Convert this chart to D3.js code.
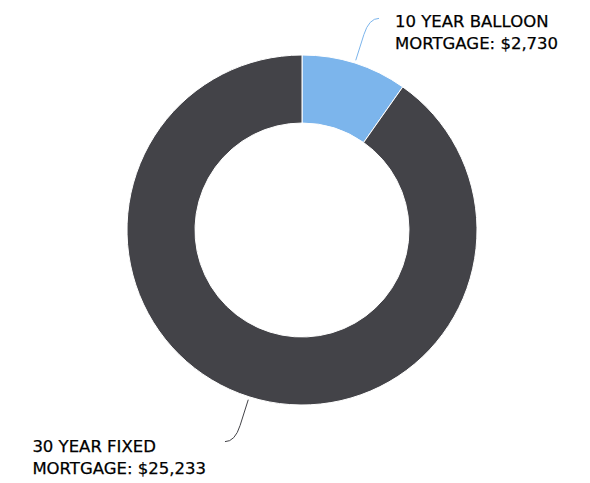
<!DOCTYPE html>
<html>
<head>
<meta charset="utf-8">
<script src="https://cdn.jsdelivr.net/npm/d3@7"></script>
<style>
  html, body { margin: 0; padding: 0; background: #ffffff; }
  svg { display: block; }
  text { font-family: "DejaVu Sans", Verdana, sans-serif; }
</style>
</head>
<body>
<svg id="chart" width="590" height="483"></svg>
<script>
const categories = ["10 YEAR BALLOON MORTGAGE", "30 YEAR FIXED MORTGAGE"];
const values = [2730, 25233];
const colors = ["#7cb5ec", "#434348"];
const labelLines = [["10 YEAR BALLOON", "MORTGAGE: $2,730"], ["30 YEAR FIXED", "MORTGAGE: $25,233"]];

const W = 590, H = 483;
const cx = 302, cy = 230;
const outerR = 175, innerR = 107;

const svg = d3.select("#chart");
const g = svg.append("g").attr("transform", `translate(${cx},${cy})`);

const pie = d3.pie().sort(null).value(d => d)(values);
const arc = d3.arc().innerRadius(innerR).outerRadius(outerR);

g.selectAll("path.slice")
  .data(pie)
  .join("path")
  .attr("class", "slice")
  .attr("d", arc)
  .attr("fill", (d, i) => colors[i])
  .attr("stroke", "#ffffff")
  .attr("stroke-width", 1)
  .attr("stroke-linejoin", "round");

// connectors + labels
pie.forEach((d, i) => {
  const a = (d.startAngle + d.endAngle) / 2;
  const sx = Math.sin(a), sy = -Math.cos(a);
  const right = sx >= 0;
  const p0 = [sx * (outerR + 3), sy * (outerR + 3)];
  const elbow = [sx * 222, sy * 222];
  const end = [elbow[0] + (right ? 10 : -10), elbow[1]];
  const mid = [sx * 205, sy * 205];
  const path = d3.path();
  path.moveTo(p0[0], p0[1]);
  path.lineTo(mid[0], mid[1]);
  path.quadraticCurveTo(elbow[0], elbow[1], end[0], end[1]);
  g.append("path")
    .attr("d", path.toString())
    .attr("fill", "none")
    .attr("stroke", colors[i])
    .attr("stroke-width", 1);

  const t = g.append("text")
    .attr("fill", "#000000")
    .attr("font-size", 16.5)
    .attr("stroke", "#000")
    .attr("stroke-width", 0.25);
  const lines = labelLines[i];
  const ty = right ? end[1] + 9 : end[1] + 10;
  const spans = lines.map((ln, k) =>
    t.append("tspan").attr("y", ty + k * 22).text(ln));
  const maxW = d3.max(spans, s => s.node().getComputedTextLength());
  const tx = right ? end[0] + 16 : end[0] - 19 - maxW;
  spans.forEach(s => s.attr("x", tx));
});
</script>
</body>
</html>
